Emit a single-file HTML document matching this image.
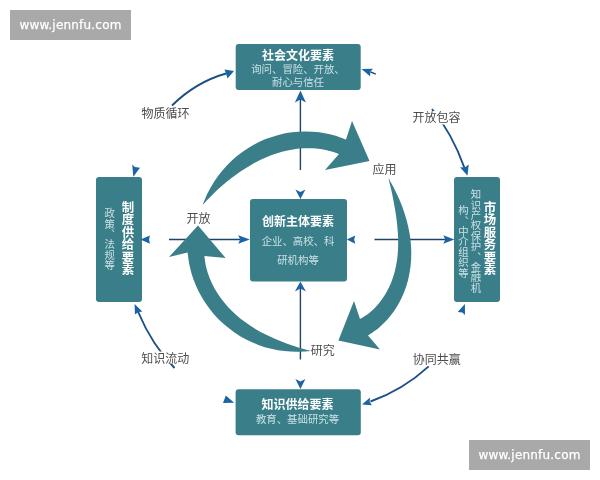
<!DOCTYPE html>
<html lang="zh">
<head>
<meta charset="utf-8">
<title>创新生态系统</title>
<style>
html,body{margin:0;padding:0;background:#fff;}
body{width:600px;height:480px;position:relative;overflow:hidden;filter:blur(0.45px);font-family:"Liberation Sans","Noto Sans CJK SC",sans-serif;}
svg{position:absolute;left:0;top:0;}
.wm{position:absolute;width:121px;height:30px;background:#a9a9a9;color:#fff;font-family:"DejaVu Sans","Liberation Sans",sans-serif;font-size:12px;line-height:30px;text-align:center;letter-spacing:0.2px;-webkit-text-stroke:0.25px #fff;}
.v{position:absolute;writing-mode:vertical-rl;white-space:nowrap;text-align:center;font-family:"Liberation Sans","Noto Sans CJK SC",sans-serif;}
.vt{color:#fff;font-weight:bold;font-size:12.4px;letter-spacing:0;}
.vs{color:#c9e1e4;font-size:10.4px;}
</style>
</head>
<body>
<svg width="600" height="480" viewBox="0 0 600 480">
  <g stroke="#1e4365" stroke-width="1.4" fill="none" stroke-linecap="butt">
    <line x1="300.4" y1="99" x2="300.4" y2="170"/>
    <line x1="300.4" y1="288" x2="300.4" y2="359.5"/>
    <line x1="169" y1="239.5" x2="240" y2="239.5"/>
    <line x1="374.5" y1="239.5" x2="446" y2="239.5"/>
    <g stroke="#1c5084" stroke-width="1.9">
    <path d="M172,105.5 Q196,82 226,73.500"/>
    <path d="M432,109 Q452,133 464.5,168"/>
    <path d="M428.7,366.4 Q403,390 370.5,401.5"/>
    <path d="M174.5,368 Q152,345 138.2,312"/>
    </g>
    <line x1="370.5" y1="71.8" x2="375.8" y2="74.2"/>
  </g>
  <g fill="#3a7e89">
    <!-- upper arc -->
    <path d="M202.6,205.0 C203.5,203.0 205.8,196.7 207.8,192.7 C209.8,188.8 212.0,184.9 214.4,181.2 C216.9,177.4 219.5,173.8 222.4,170.4 C225.3,167.0 228.3,163.8 231.6,160.7 C234.9,157.7 238.3,154.8 242.0,152.2 C245.6,149.5 249.4,147.1 253.3,144.9 C257.3,142.7 261.4,140.8 265.6,139.1 C269.8,137.4 274.1,136.0 278.5,134.9 C282.9,133.7 287.4,132.9 291.9,132.3 C296.4,131.7 301.0,131.4 305.6,131.4 C310.2,131.4 314.8,131.7 319.3,132.3 C323.9,132.9 328.4,133.8 332.9,135.0 C337.3,136.2 343.8,138.8 346.0,139.5 L352.0,121.0 L369.5,161.0 L325.0,170.0 L339.0,154.0 C337.1,153.4 331.6,151.4 327.8,150.5 C324.0,149.6 320.1,148.9 316.2,148.6 C312.3,148.2 308.4,148.1 304.6,148.3 C300.7,148.4 296.9,148.8 293.1,149.4 C289.3,150.0 285.6,150.8 281.9,151.8 C278.2,152.8 274.6,154.0 271.1,155.3 C267.5,156.6 264.1,158.2 260.7,159.8 C257.2,161.4 253.9,163.2 250.6,165.2 C247.3,167.1 244.0,169.1 240.8,171.3 C237.5,173.5 234.4,175.8 231.2,178.3 C228.0,180.8 224.8,183.4 221.7,186.1 C218.5,188.9 215.3,191.8 212.2,195.0 C209.0,198.1 204.2,203.3 202.6,205.0 Z"/>
    <!-- right arc -->
    <path d="M388.4,178.0 C389.5,179.9 392.7,185.5 394.6,189.4 C396.6,193.2 398.4,197.1 400.0,201.1 C401.7,205.0 403.2,209.1 404.5,213.2 C405.9,217.3 407.1,221.5 408.0,225.8 C409.0,230.0 409.8,234.4 410.4,238.8 C410.9,243.2 411.2,247.7 411.3,252.2 C411.3,256.7 411.1,261.3 410.6,265.8 C410.1,270.3 409.3,274.9 408.2,279.4 C407.1,283.9 405.6,288.4 403.9,292.7 C402.1,297.1 400.0,301.4 397.6,305.4 C395.2,309.5 392.5,313.4 389.5,317.1 C386.5,320.7 383.1,324.2 379.5,327.3 C376.0,330.4 369.9,334.2 368.0,335.6 L380.0,349.5 L338.4,340.6 L354.0,301.0 L360.0,319.0 C361.7,317.9 366.8,314.9 369.9,312.4 C372.9,309.9 375.8,307.0 378.4,304.0 C380.9,301.0 383.3,297.7 385.3,294.3 C387.4,290.9 389.1,287.3 390.7,283.7 C392.2,280.0 393.5,276.2 394.5,272.5 C395.5,268.7 396.3,264.8 396.9,261.0 C397.5,257.1 397.8,253.2 398.0,249.4 C398.2,245.5 398.2,241.7 398.1,237.8 C398.0,234.0 397.7,230.2 397.3,226.3 C397.0,222.5 396.5,218.7 395.9,214.8 C395.3,210.9 394.7,207.0 393.9,203.0 C393.2,199.0 392.4,195.0 391.5,190.8 C390.5,186.7 388.9,180.1 388.4,178.0 Z"/>
    <!-- left arc -->
    <path d="M311.0,351.0 C308.8,351.1 302.2,351.8 297.8,351.8 C293.4,351.9 288.9,351.6 284.5,351.1 C280.1,350.6 275.6,349.9 271.3,348.8 C267.0,347.8 262.6,346.5 258.4,344.9 C254.2,343.3 250.1,341.5 246.1,339.4 C242.1,337.4 238.2,335.0 234.5,332.5 C230.7,329.9 227.1,327.1 223.7,324.1 C220.4,321.1 217.1,317.8 214.1,314.4 C211.1,311.0 208.3,307.4 205.8,303.6 C203.2,299.9 200.9,295.9 198.8,291.8 C196.8,287.8 194.9,283.5 193.4,279.3 C191.9,275.0 190.6,270.5 189.7,266.1 C188.7,261.7 187.9,254.9 187.6,252.6 L169.0,257.0 L198.0,225.4 L225.6,258.0 L204.4,256.0 C204.7,257.9 205.3,263.6 206.2,267.2 C207.1,270.9 208.2,274.6 209.6,278.1 C211.0,281.7 212.7,285.2 214.5,288.5 C216.4,291.8 218.5,295.0 220.7,298.1 C223.0,301.2 225.4,304.1 228.0,306.9 C230.6,309.7 233.3,312.4 236.2,314.9 C239.0,317.4 242.0,319.8 245.1,322.1 C248.1,324.3 251.3,326.4 254.6,328.4 C257.9,330.5 261.3,332.3 264.7,334.1 C268.2,335.9 271.7,337.6 275.3,339.1 C279.0,340.7 282.7,342.2 286.5,343.6 C290.4,345.0 294.3,346.3 298.4,347.6 C302.5,348.8 308.9,350.4 311.0,351.0 Z"/>
    <!-- boxes -->
    <rect x="235.700" y="44" width="125" height="46" rx="3"/>
    <rect x="235.600" y="389.200" width="125.200" height="46" rx="3"/>
    <rect x="96" y="177" width="46" height="125" rx="3"/>
    <rect x="454" y="177" width="46" height="125" rx="3"/>
    <rect x="250" y="199" width="97" height="82.5" rx="3"/>
  </g>
  <g fill="#1a63a5">
    <!-- vertical arrows -->
    <path d="M300.4,90.5 L305.9,102.5 L300.4,99.5 L294.9,102.5 Z"/>
    <path d="M300.4,199 L295.4,189.5 L300.4,192 L305.4,189.5 Z"/>
    <path d="M300.4,281.5 L305.9,291.5 L300.4,288.5 L294.9,291.5 Z"/>
    <path d="M300.4,389 L295.4,379 L300.4,381.5 L305.4,379 Z"/>
    <!-- horizontal arrows -->
    <path d="M140.5,239.6 L149.9,235.4 L149.1,239.6 L149.9,243.8 Z"/>
    <path d="M249.8,239.5 L238.2,235.2 L240.2,239.5 L238.2,243.8 Z"/>
    <path d="M346.8,239.6 L355.2,235.6 L354.2,239.6 L355.2,243.8 Z"/>
    <path d="M454.3,239.5 L443.3,235.2 L445.3,239.5 L443.3,243.8 Z"/>
    <!-- outer arrowheads -->
    <path d="M234,71 L224.5,69.5 L226,73.5 L227.5,78.5 Z"/>
    <path d="M361.5,69 L373,68.8 L370.5,71.5 L370,76.2 Z"/>
    <path d="M467.5,175.7 L460,167.2 L464.8,167.4 L468.7,164.6 Z"/>
    <path d="M464.9,304 L457.7,311.9 L462.3,312.6 L465,314.9 Z"/>
    <path d="M362,404.4 L370,397.4 L369.6,401.6 L371.8,405.2 Z"/>
    <path d="M225.8,395.5 L223,403 L234.2,402.8 Z"/>
    <path d="M134.6,304 L134.9,314.6 L138.2,312.2 L142.3,311.4 Z"/>
    <path d="M133.3,176.8 L132.2,164.5 L134.8,167 L140,167.8 Z"/>
  </g>
  <!-- label backgrounds -->
  <g fill="#fff">
    <rect x="141" y="106.5" width="49" height="13.5"/>
    <rect x="411.500" y="111" width="50" height="13.5"/>
    <rect x="411.500" y="352" width="50" height="14"/>
    <rect x="140.500" y="351.500" width="49.500" height="12"/>
  </g>
  <g font-family="'Liberation Sans','Noto Sans CJK SC',sans-serif" font-size="12" fill="#4d4d4d" text-anchor="middle">
    <text x="165.500" y="117.500">物质循环</text>
    <text x="436.500" y="122">开放包容</text>
    <text x="436.800" y="363.500">协同共赢</text>
    <text x="165.300" y="363">知识流动</text>
    <text x="198.500" y="222.500">开放</text>
    <text x="384.600" y="174">应用</text>
    <text x="322.700" y="354.800">研究</text>
  </g>
  <g font-family="'Liberation Sans','Noto Sans CJK SC',sans-serif" text-anchor="middle">
    <g fill="#fff" font-weight="bold" font-size="12">
      <text x="298" y="59.500">社会文化要素</text>
      <text x="298" y="225.500">创新主体要素</text>
      <text x="297.500" y="408.500">知识供给要素</text>
    </g>
    <g fill="#c9e1e4" font-size="10.4">
      <text x="298" y="73">询问、冒险、开放、</text>
      <text x="298" y="85.500">耐心与信任</text>
      <text x="298" y="245">企业、高校、科</text>
      <text x="298" y="263.500">研机构等</text>
      <text x="297.500" y="422.700">教育、基础研究等</text>
    </g>
  </g>
</svg>
<div class="wm" style="left:10px;top:10px;">www.jennfu.com</div>
<div class="wm" style="left:469px;top:440px;">www.jennfu.com</div>
<div class="v vt" style="left:120.600px;top:175.800px;height:125px;width:12.400px;line-height:12.400px;">制度供给要素</div>
<div class="v vs" style="left:102.900px;top:176.800px;height:125px;width:10.400px;line-height:10.400px;">政策、法规等</div>
<div class="v vt" style="left:482.600px;top:175.300px;height:125px;width:12.400px;line-height:12.400px;">市场服务要素</div>
<div class="v vs" style="left:469px;top:178px;height:125px;width:10.400px;line-height:10.400px;">知识产权保护、金融机</div>
<div class="v vs" style="left:456.500px;top:179.300px;height:125px;width:10.400px;line-height:10.400px;">构、中介组织等</div>
</body>
</html>
